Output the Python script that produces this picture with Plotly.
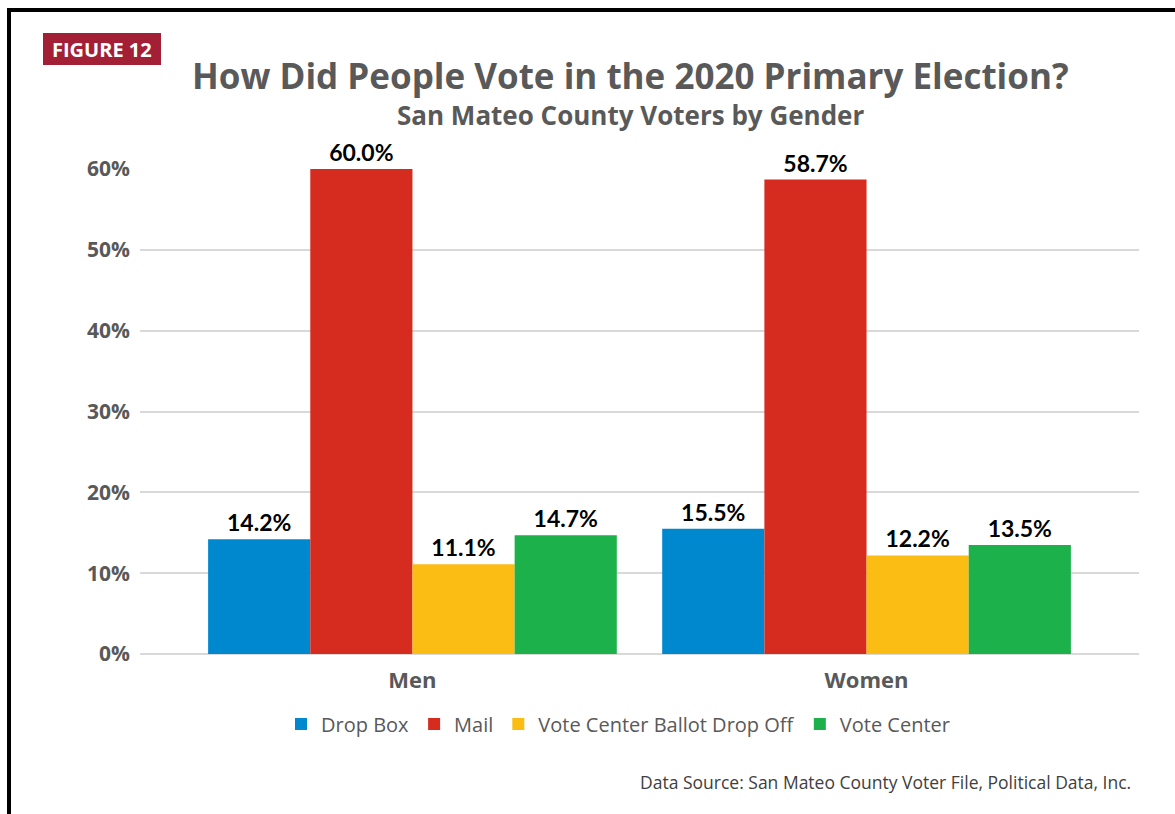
import plotly.graph_objects as go

categories = ["Men", "Women"]
series_names = ["Drop Box", "Mail", "Vote Center Ballot Drop Off", "Vote Center"]
drop_box = [14.2, 15.5]
mail = [60.0, 58.7]
vote_center_drop_off = [11.1, 12.2]
vote_center = [14.7, 13.5]
y_ticks = [0, 10, 20, 30, 40, 50, 60]
y_tick_labels = ["0%", "10%", "20%", "30%", "40%", "50%", "60%"]

colors = ["#0088cf", "#d62c1f", "#fbbd13", "#1db14b"]
W, H = 1175, 814
L, R, T, B = 140, 1139, 169, 654

def px(x):
    return (x - L) / (R - L)

def py(y):
    return (B - y) / (B - T)

fig = go.Figure()
for name, vals, col in zip(series_names, [drop_box, mail, vote_center_drop_off, vote_center], colors):
    fig.add_trace(go.Bar(
        x=categories, y=vals, name=name, marker=dict(color=col, line=dict(width=0)),
        text=[f"{v:.1f}%" for v in vals], textposition="outside", cliponaxis=False,
        textfont=dict(family="Lato", size=23, color="#000000", weight="bold"),
    ))

fig.update_layout(
    width=W, height=H,
    margin=dict(l=L, r=W - R, t=T, b=H - B),
    paper_bgcolor="white", plot_bgcolor="white",
    barmode="group", bargap=0.1, bargroupgap=0,
    uniformtext=dict(mode=False),
    showlegend=True,
    legend=dict(orientation="h", x=px(281), y=py(724), xanchor="left", yanchor="middle",
                font=dict(family="Open Sans", size=20, color="#595959"),
                itemwidth=30, traceorder="normal", tracegroupgap=0),
    xaxis=dict(range=[-0.6, 1.6], showgrid=False, showline=False, ticks="outside",
               ticklen=7, tickcolor="rgba(0,0,0,0)",
               tickfont=dict(family="Open Sans", size=22, color="#595959", weight="bold")),
    yaxis=dict(range=[0, 60], tickvals=y_ticks, ticktext=y_tick_labels,
               showgrid=True, gridcolor="#d9d9d9", gridwidth=2, zeroline=True,
               zerolinecolor="#d9d9d9", zerolinewidth=2, showline=False,
               ticklabelstandoff=9,
               tickfont=dict(family="Open Sans", size=21, color="#595959", weight="bold")),
)

shapes = [
    dict(type="rect", xref="paper", yref="paper", x0=px(43), x1=px(161), y0=py(65), y1=py(33),
         fillcolor="#a21f36", line=dict(width=0), layer="above"),
    dict(type="line", xref="paper", yref="paper", x0=px(9), x1=px(1175), y0=py(10), y1=py(10),
         line=dict(color="#000000", width=4)),
    dict(type="line", xref="paper", yref="paper", x0=px(9), x1=px(9), y0=py(8), y1=py(814),
         line=dict(color="#000000", width=4)),
]
fig.update_layout(shapes=shapes)

annotations = [
    dict(text="FIGURE 12", x=px(102), y=py(49), xref="paper", yref="paper", showarrow=False,
         xanchor="center", yanchor="middle",
         font=dict(family="Open Sans", size=20, color="white", weight="bold")),
    dict(text="How Did People Vote in the 2020 Primary Election?", x=px(630), y=py(75),
         xref="paper", yref="paper", showarrow=False, xanchor="center", yanchor="middle",
         font=dict(family="Open Sans", size=35, color="#595959", weight="bold")),
    dict(text="San Mateo County Voters by Gender", x=px(630), y=py(115),
         xref="paper", yref="paper", showarrow=False, xanchor="center", yanchor="middle",
         font=dict(family="Open Sans", size=26, color="#595959", weight="bold")),
    dict(text="Data Source: San Mateo County Voter File, Political Data, Inc.", x=px(1133), y=py(782),
         xref="paper", yref="paper", showarrow=False, xanchor="right", yanchor="middle",
         font=dict(family="Open Sans", size=17.5, color="#404040")),
]
fig.update_layout(annotations=annotations)

fig.write_html("out.html")
